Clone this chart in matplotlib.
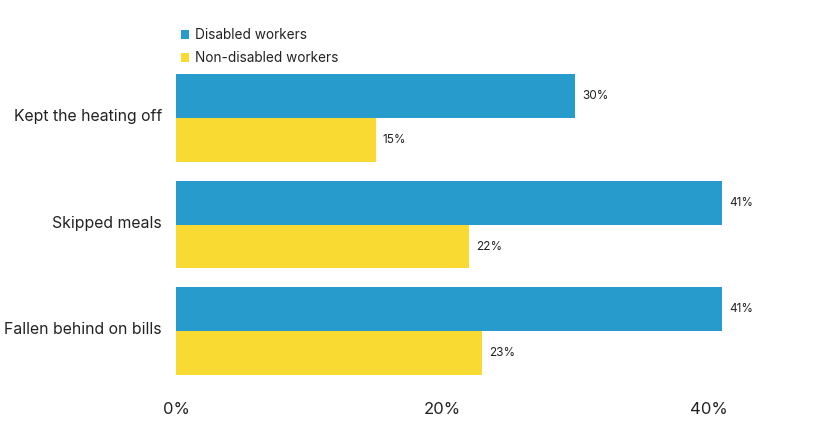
import matplotlib.pyplot as plt
import numpy as np

categories = ["Kept the heating off", "Skipped meals", "Fallen behind on bills"]
disabled = [30, 41, 41]
non_disabled = [15, 22, 23]
series_names = ["Disabled workers", "Non-disabled workers"]
xticks = [0, 20, 40]

blue = "#279BCB"
yellow = "#F9DA32"
txt = "#222222"

plt.rcParams['font.family'] = ['Inter', 'DejaVu Sans']

fig = plt.figure(figsize=(8.2, 4.41), dpi=100)
ax = fig.add_axes([176 / 820, 1 - 390 / 441, 1 - 176 / 820 - 0.006, (390 - 60) / 441])

y = np.arange(len(categories))
h = 0.413
b1 = ax.barh(y - h / 2, disabled, height=h, color=blue, label=series_names[0])
b2 = ax.barh(y + h / 2, non_disabled, height=h, color=yellow, label=series_names[1])

for bars, vals in [(b1, disabled), (b2, non_disabled)]:
    for rect, v in zip(bars, vals):
        ax.annotate(f"{v}%", (rect.get_width(), rect.get_y() + rect.get_height() / 2),
                    xytext=(5, 0), textcoords="offset points", va="center", ha="left",
                    fontsize=8.5, color=txt)

ax.set_xlim(0, 48)
ax.set_ylim(2.554, -0.545)
ax.set_yticks(y - 0.025)
ax.set_yticklabels(categories, fontsize=11.4, color=txt)
ax.set_xticks(xticks)
ax.set_xticklabels([f"{t}%" for t in xticks], fontsize=12, color=txt)
ax.tick_params(axis="both", length=0)
ax.tick_params(axis="y", pad=10)
ax.tick_params(axis="x", pad=9)
for s in ax.spines.values():
    s.set_visible(False)

fig.legend(loc="upper left", bbox_to_anchor=(181 / 820, 1 - 28 / 441), frameon=False,
           fontsize=9.8, handlelength=0.6, handleheight=0.6, handletextpad=0.4,
           labelspacing=0.68, labelcolor=txt, borderaxespad=0, borderpad=0)

fig.savefig("out.png", dpi=100)
